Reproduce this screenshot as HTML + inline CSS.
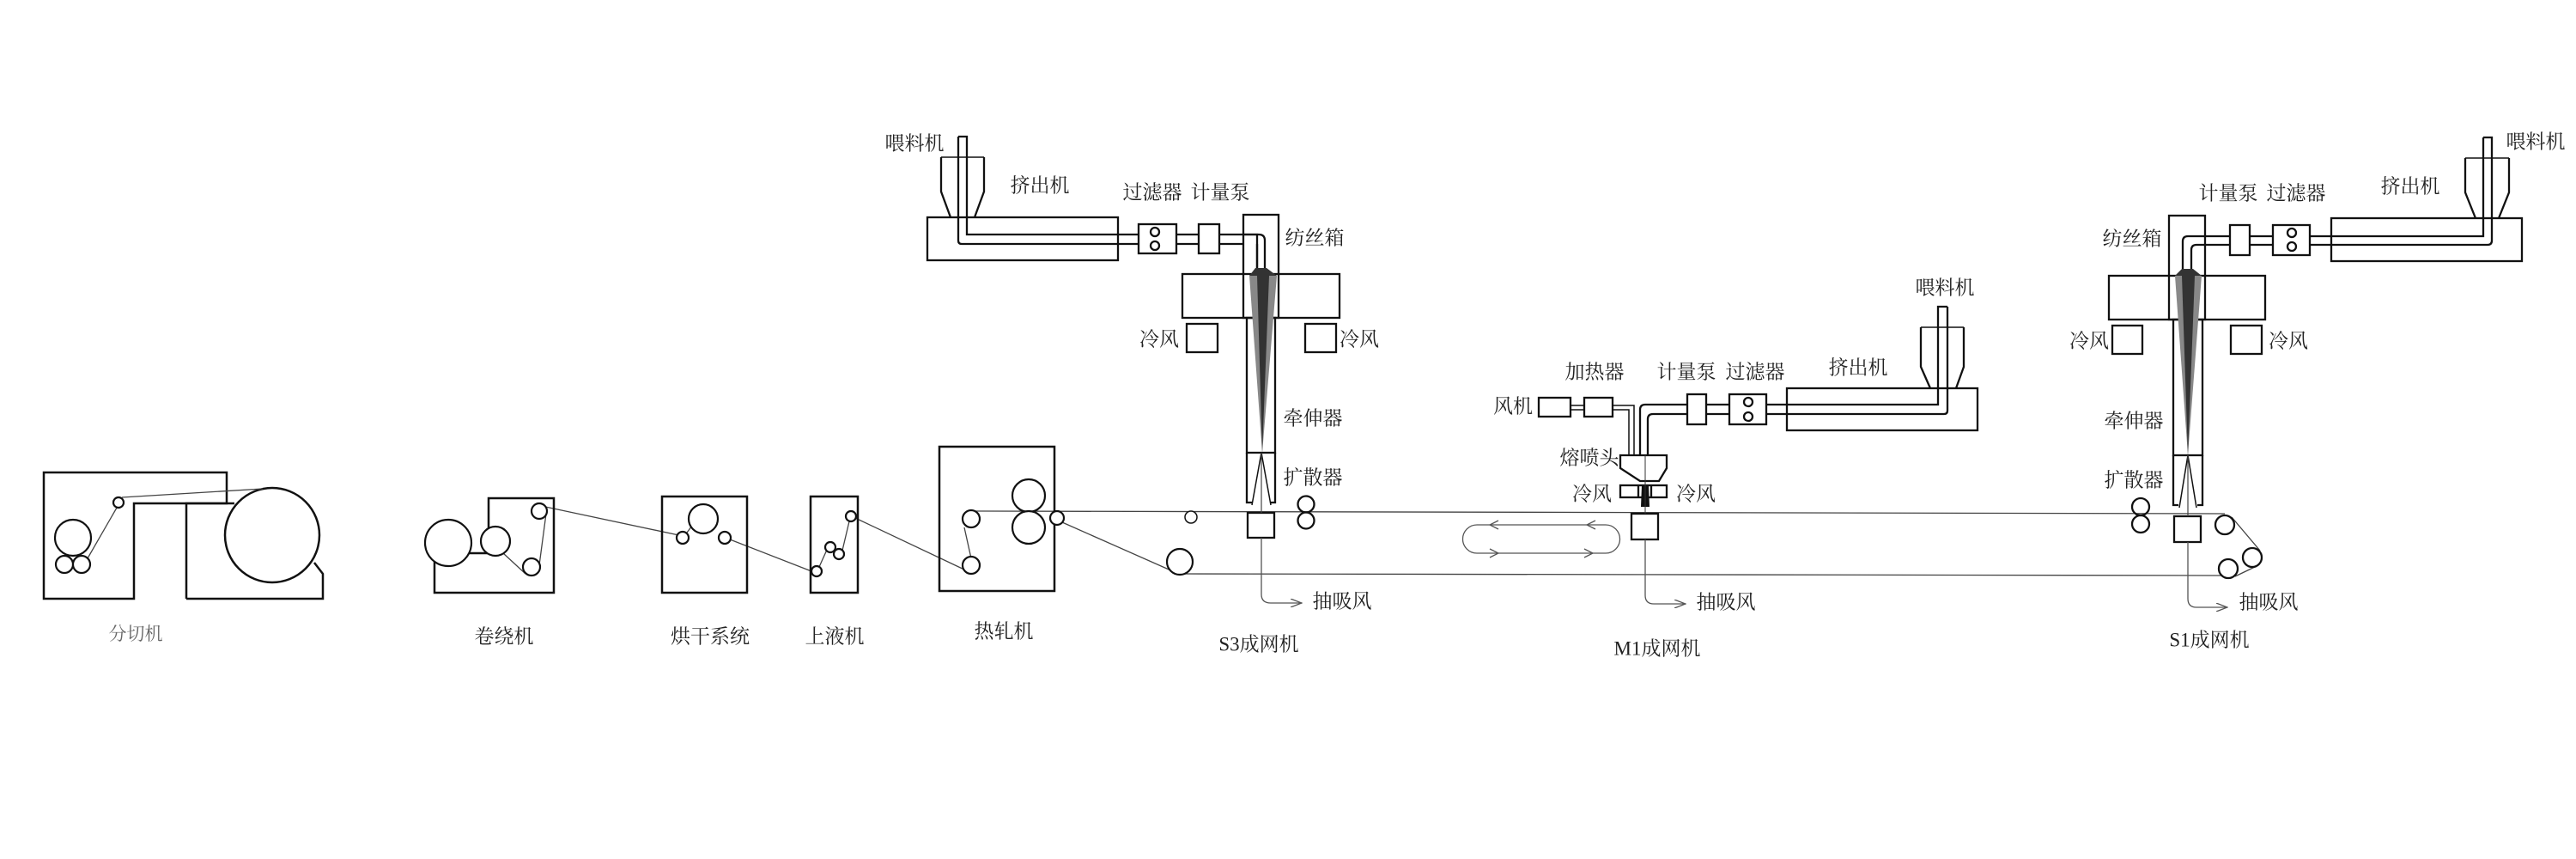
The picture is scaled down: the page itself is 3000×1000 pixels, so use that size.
<!DOCTYPE html>
<html><head><meta charset="utf-8"><style>
html,body{margin:0;padding:0;background:#fff;}
svg{display:block}
text{font-family:"Liberation Serif","Noto Serif CJK SC","Noto Sans CJK SC",serif;font-size:23px;fill:#222;text-anchor:middle;dominant-baseline:middle}
</style></head><body>
<svg width="3000" height="1000" viewBox="0 0 3000 1000" xmlns="http://www.w3.org/2000/svg">
<defs>
<marker id="ar" markerWidth="14" markerHeight="10" refX="13" refY="5" orient="auto" markerUnits="userSpaceOnUse"><path d="M0,0 L13,5 L0,10" fill="none" stroke="#555" stroke-width="1.3"/></marker>
</defs>
<g fill="none" stroke="#111" stroke-width="2.5">
<polygon points="51,550 264,550 264,586 156,586 156,697 51,697" fill="#fff"/>
<polyline points="217,697 217,586 273,586"/>
<polyline points="217,697 376,697 376,668 366,655"/>
<circle cx="317" cy="623" r="55" fill="#fff"/>
</g>
<g fill="none" stroke="#444" stroke-width="1.3">
<line x1="142" y1="579" x2="306" y2="569"/>
<line x1="136" y1="591" x2="102" y2="650"/>
<polyline points="635,590 800,625"/>
<line x1="586" y1="644" x2="612" y2="668"/>
<line x1="636" y1="598" x2="628" y2="658"/>
<line x1="812" y1="604" x2="800" y2="620"/>
<line x1="850" y1="628" x2="945" y2="665"/>
<line x1="954" y1="660" x2="963" y2="640"/>
<line x1="980" y1="645" x2="989" y2="607"/>
<line x1="996" y1="603" x2="1125" y2="664"/>
<line x1="1135" y1="668" x2="1123" y2="614"/>
<line x1="1131" y1="595" x2="2591" y2="598"/>
<line x1="1237" y1="608" x2="1368" y2="666"/>
<line x1="1374" y1="668" x2="2595" y2="670"/>
<line x1="2599" y1="602" x2="2632" y2="641"/>
<line x1="2628" y1="659" x2="2603" y2="671"/>
</g>
<g fill="#fff" stroke="#111" stroke-width="2.2">
<circle cx="138" cy="585" r="6"/>
<circle cx="85" cy="626" r="21"/>
<circle cx="75" cy="657" r="10"/>
<circle cx="95" cy="657" r="10"/>
<polygon points="569,580 645,580 645,690 506,690 506,644 569,644" fill="none" stroke-width="2.5"/>
<circle cx="522" cy="632" r="27"/>
<circle cx="577" cy="630" r="17"/>
<circle cx="628" cy="595" r="9"/>
<circle cx="619" cy="660" r="10"/>
<rect x="771" y="578" width="99" height="112" fill="none" stroke-width="2.5"/>
<circle cx="819" cy="604" r="17"/>
<circle cx="795" cy="626" r="7"/>
<circle cx="844" cy="626" r="7"/>
<rect x="944" y="578" width="55" height="112" fill="none" stroke-width="2.5"/>
<circle cx="951" cy="665" r="6"/>
<circle cx="967" cy="637" r="6"/>
<circle cx="977" cy="645" r="6"/>
<circle cx="991" cy="601" r="6"/>
<rect x="1094" y="520" width="134" height="168" fill="none" stroke-width="2.5"/>
<circle cx="1131" cy="604" r="10"/>
<circle cx="1131" cy="658" r="10"/>
<circle cx="1198" cy="577" r="19"/>
<circle cx="1198" cy="614" r="19"/>
<circle cx="1231" cy="603" r="8"/>
<circle cx="1374" cy="654" r="15"/>
<circle cx="1387" cy="602" r="7" stroke-width="1.5"/>
</g>

<g fill="none" stroke="#111" stroke-width="2.3">
<polyline points="1096,183 1096,223 1107,253"/>
<polyline points="1146,183 1146,223 1135,253"/>
<line x1="1096" y1="183" x2="1146" y2="183" stroke-width="1.5"/>
<rect x="1080" y="253" width="222" height="50"/>
<path d="M1116,159 L1126,159 L1126,273 L1464,273 L1464,312"/>
<path d="M1116,159 L1116,280 Q1116,284 1120,284 L1326,284"/>
<line x1="1370" y1="284" x2="1396" y2="284"/><line x1="1420" y1="284" x2="1448" y2="284"/>
<path d="M1448,273 L1466,273 Q1473,273 1473,280 L1473,312"/>
<path d="M1464,284 L1464,312"/>
<rect x="1326" y="261" width="44" height="34" fill="#fff"/>
<circle cx="1345" cy="270" r="5"/><circle cx="1345" cy="286" r="5"/>
<rect x="1396" y="261" width="24" height="34" fill="#fff"/>
<rect x="1448" y="250" width="41" height="120"/>
<rect x="1377" y="319" width="183" height="51"/>
<rect x="1382" y="377" width="36" height="33"/>
<rect x="1520" y="377" width="36" height="33"/>
<rect x="1452" y="370" width="33" height="157"/>
<polyline points="1452,527 1452,585 1458,585"/>
<polyline points="1485,527 1485,585 1479,585"/>
<line x1="1469" y1="527" x2="1458" y2="588" stroke-width="1.5"/>
<line x1="1469" y1="527" x2="1480" y2="588" stroke-width="1.5"/>
<rect x="1453" y="597" width="31" height="29"/>
<circle cx="1521" cy="587" r="9.5"/><circle cx="1521" cy="606" r="9.5"/>
</g>
<polygon points="1462,312 1475,312 1487,321 1455,321" fill="#333"/>
<polygon points="1455,321 1487,321 1470,527" fill="#888"/>
<polygon points="1464,321 1478,321 1470,527" fill="#333"/>
<line x1="1469" y1="527" x2="1469" y2="597" stroke="#444" stroke-width="1.2"/>
<path d="M1469,626 L1469,692 Q1469,702 1480,702 L1516,702" fill="none" stroke="#555" stroke-width="1.3" marker-end="url(#ar)"/>

<g fill="none" stroke="#111" stroke-width="2.3">
<polyline points="2237,381 2237,427 2248,452"/>
<polyline points="2287,381 2287,427 2278,452"/>
<line x1="2237" y1="381" x2="2287" y2="381" stroke-width="1.5"/>
<rect x="2081" y="452" width="222" height="49"/>
<path d="M2268,357 L2257,357 L2257,471 L1916,471 Q1910,471 1910,477 L1910,530"/>
<path d="M2268,357 L2268,478 Q2268,482 2264,482 L1925,482 Q1919,482 1919,488 L1919,530"/>
<rect x="2014" y="459" width="43" height="35" fill="#fff"/>
<circle cx="2036" cy="468" r="5"/><circle cx="2036" cy="485" r="5"/>
<rect x="1965" y="459" width="22" height="35" fill="#fff"/>
<rect x="1792" y="463" width="37" height="22"/>
<rect x="1845" y="463" width="33" height="22"/>
<line x1="1829" y1="472" x2="1845" y2="472" stroke-width="1.5"/><line x1="1829" y1="477" x2="1845" y2="477" stroke-width="1.5"/>
<path d="M1878,472 L1903,472 L1903,530" stroke-width="1.5"/>
<path d="M1878,477 L1897,477 L1897,530" stroke-width="1.5"/>
<polygon points="1887,530 1941,530 1941,545 1932,560 1910,560 1887,545" fill="#fff"/>
<rect x="1887" y="565" width="54" height="14"/>
<line x1="1908" y1="565" x2="1908" y2="579"/><line x1="1923" y1="565" x2="1923" y2="579"/>
<rect x="1900" y="598" width="31" height="30"/>
<path d="M1720,611 L1870,611 A16.5,16.5 0 0 1 1870,644 L1720,644 A16.5,16.5 0 0 1 1720,611" stroke="#555" stroke-width="1.3"/>
</g>
<polygon points="1912,565 1920,565 1921,590 1911,590" fill="#111"/>
<line x1="1916" y1="530" x2="1916" y2="598" stroke="#333" stroke-width="1"/>
<g fill="none" stroke="#555" stroke-width="1.3">
<polyline points="1745,606 1735,611 1745,616"/><polyline points="1858,606 1848,611 1858,616"/>
<polyline points="1735,639 1745,644 1735,649"/><polyline points="1845,639 1855,644 1845,649"/>
</g>
<path d="M1916,628 L1916,693 Q1916,703 1926,703 L1963,703" fill="none" stroke="#555" stroke-width="1.3" marker-end="url(#ar)"/>

<g fill="none" stroke="#111" stroke-width="2.3">
<polyline points="2871,184 2871,224 2883,254"/>
<polyline points="2922,184 2922,224 2910,254"/>
<line x1="2871" y1="184" x2="2922" y2="184" stroke-width="1.5"/>
<rect x="2715" y="254" width="222" height="50"/>
<path d="M2892,160 L2902,160 L2902,280 Q2902,285 2897,285 L2558,285 Q2552,285 2552,291 L2552,313"/>
<path d="M2892,160 L2892,275 L2548,275 Q2542,275 2542,281 L2542,313"/>
<rect x="2647" y="262" width="43" height="35" fill="#fff"/>
<circle cx="2669" cy="271" r="5"/><circle cx="2669" cy="287" r="5"/>
<rect x="2597" y="262" width="23" height="35" fill="#fff"/>
<rect x="2526" y="251" width="42" height="121"/>
<rect x="2456" y="321" width="182" height="51"/>
<rect x="2460" y="379" width="35" height="33"/>
<rect x="2598" y="379" width="36" height="33"/>
<rect x="2531" y="372" width="34" height="158"/>
<polyline points="2531,530 2531,588 2537,588"/>
<polyline points="2565,530 2565,588 2559,588"/>
<line x1="2548" y1="530" x2="2538" y2="591" stroke-width="1.5"/>
<line x1="2548" y1="530" x2="2558" y2="591" stroke-width="1.5"/>
<rect x="2532" y="601" width="31" height="30"/>
<circle cx="2493" cy="590" r="10"/><circle cx="2493" cy="610" r="10"/>
<circle cx="2591" cy="611" r="11" fill="#fff"/>
<circle cx="2623" cy="649" r="11" fill="#fff"/>
<circle cx="2595" cy="662" r="11" fill="#fff"/>
</g>
<polygon points="2541,313 2554,313 2564,321 2533,321" fill="#333"/>
<polygon points="2533,321 2564,321 2548,530" fill="#888"/>
<polygon points="2541,321 2556,321 2548,530" fill="#333"/>
<line x1="2548" y1="530" x2="2548" y2="601" stroke="#444" stroke-width="1.2"/>
<path d="M2548,631 L2548,697 Q2548,707 2558,707 L2594,707" fill="none" stroke="#555" stroke-width="1.3" marker-end="url(#ar)"/>

<text x="158" y="740" style="font-size:21px;fill:#666">分切机</text>
<text x="587" y="743">卷绕机</text>
<text x="827" y="743">烘干系统</text>
<text x="972" y="743">上液机</text>
<text x="1169" y="737">热轧机</text>

<text x="1065" y="169">喂料机</text>
<text x="1211" y="218">挤出机</text>
<text x="1342" y="226">过滤器</text>
<text x="1421" y="226">计量泵</text>
<text x="1531" y="279">纺丝箱</text>
<text x="1350" y="397">冷风</text>
<text x="1583" y="397">冷风</text>
<text x="1529" y="489">牵伸器</text>
<text x="1529" y="558">扩散器</text>
<text x="1563" y="702">抽吸风</text>
<text x="1466" y="752">S3成网机</text>

<text x="2265" y="337">喂料机</text>
<text x="2164" y="430">挤出机</text>
<text x="1857" y="435">加热器</text>
<text x="1964" y="435">计量泵</text>
<text x="2044" y="435">过滤器</text>
<text x="1762" y="475">风机</text>
<text x="1851" y="535">熔喷头</text>
<text x="1854" y="577">冷风</text>
<text x="1975" y="577">冷风</text>
<text x="2010" y="703">抽吸风</text>
<text x="1930" y="757">M1成网机</text>

<text x="2953" y="167">喂料机</text>
<text x="2807" y="219">挤出机</text>
<text x="2595" y="227">计量泵</text>
<text x="2674" y="227">过滤器</text>
<text x="2483" y="280">纺丝箱</text>
<text x="2433" y="399">冷风</text>
<text x="2665" y="399">冷风</text>
<text x="2485" y="492">牵伸器</text>
<text x="2485" y="561">扩散器</text>
<text x="2642" y="703">抽吸风</text>
<text x="2573" y="747">S1成网机</text>
</svg>
</body></html>
